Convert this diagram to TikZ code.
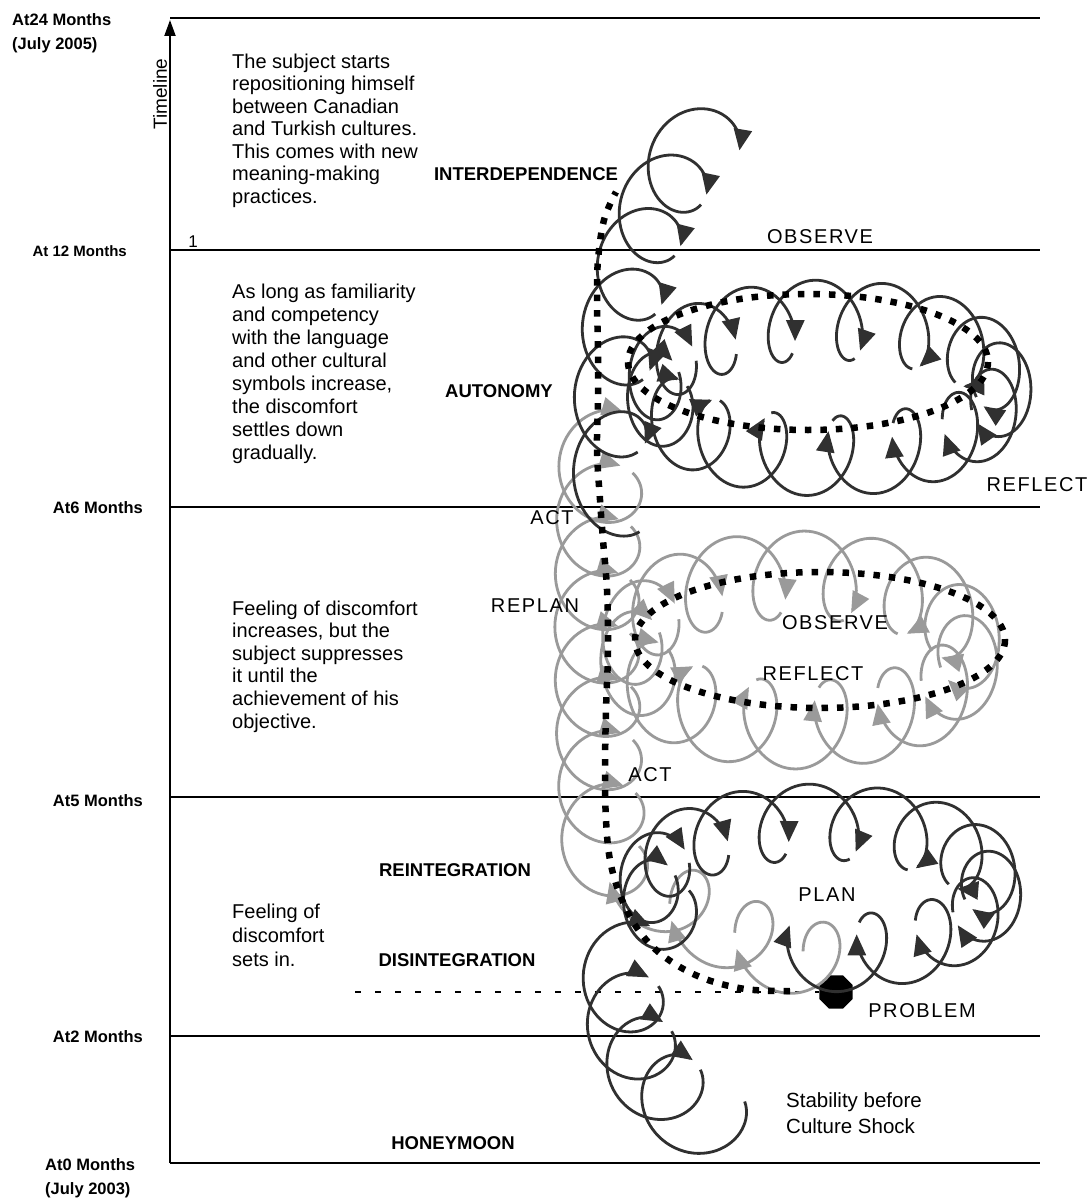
\documentclass[tikz,border=0pt]{standalone}
\usepackage{fontspec}
\setmainfont{Liberation Sans}
\newfontfamily\spacedfont[LetterSpace=8]{Liberation Sans}
\usetikzlibrary{arrows.meta,shapes.geometric}
\definecolor{coilblack}{HTML}{303030}
\definecolor{coilgrey}{HTML}{9A9A9A}
\def\gapf{0.06}
\def\crx{38}\def\cry{40}
% coil along a quadratic Bezier centre path
\newcommand{\coilbez}[9]{%
  \foreach \k in {1,...,#7}{%
    \pgfmathsetmacro\uS{\k-1}%
    \pgfmathsetmacro\uE{\k-\gapf}%
    \draw[#9] plot[domain=\uS:\uE,samples=60,variable=\cu]
      ({(1-\cu/#7)^2*#1+2*(\cu/#7)*(1-\cu/#7)*#3+(\cu/#7)^2*#5+\crx*cos(#8+360*\cu)},
       {(1-\cu/#7)^2*#2+2*(\cu/#7)*(1-\cu/#7)*#4+(\cu/#7)^2*#6+\cry*sin(#8+360*\cu)});
  }}
% coil along an elliptic centre path
\newcommand{\coilring}[9]{%
  \pgfmathsetmacro\rD{(#6-#5)/#7}%
  \pgfmathsetmacro\rK{360/\rD}%
  \pgfmathsetmacro\rP{#8+360*\gapf}%
  \foreach \k in {1,...,#7}{%
    \pgfmathsetmacro\sS{#5+(\k-1)*\rD}%
    \pgfmathsetmacro\sE{#5+(\k-\gapf)*\rD}%
    \draw[#9] plot[domain=\sS:\sE,samples=60,variable=\cs]
      ({#1+#3*cos(\cs)+\crx*cos(\cs+\rP+\rK*(\cs-#5))},
       {#2+#4*sin(\cs)+\cry*sin(\cs+\rP+\rK*(\cs-#5))});
  }}
\tikzset{
  blackcoil/.style={draw=coilblack,line width=2.8pt,-{Triangle[length=21pt,width=18pt]}},
  greycoil/.style={draw=coilgrey,line width=2.8pt,-{Triangle[length=21pt,width=18pt]}},
  sqdots/.style={draw=black,line width=6.5pt,dash pattern=on 6.5pt off 9pt},
  hline/.style={draw=black,line width=1.8pt},
  txt/.style={inner sep=0pt,align=left,anchor=north west},
  lbl/.style={inner sep=0pt,font=\fontsize{20}{22}\spacedfont},
  lblb/.style={inner sep=0pt,font=\fontsize{18.5}{21}\selectfont\bfseries},
  side/.style={inner sep=0pt,font=\fontsize{16.5}{24}\selectfont\bfseries}
}
\begin{document}
\begin{tikzpicture}[x=1pt,y=-1pt]
\useasboundingbox[fill=white] (0,0) rectangle (1089,1198);
% ---- time bands
\coordinate (ax0) at (170,1163);
\coordinate (axt) at (170,20);
\foreach \yy in {18,250,507,797,1036,1163}{
  \draw[hline] (170,\yy) -- (1040,\yy);
}
\draw[line width=2pt,-{Triangle[length=16pt,width=11pt]}] (ax0) -- (axt);
\node[rotate=90,inner sep=0pt,font=\fontsize{19}{20}\selectfont] (timeline) at (160,94) {Timeline};
\node[inner sep=0pt,font=\fontsize{17}{18}\selectfont] (one) at (193,242) {1};
% ---- side labels
\node[side,anchor=north west,align=left] (m24) at (12,13) {At24 Months\\(July 2005)};
\node[side,anchor=east,font=\fontsize{15}{18}\selectfont\bfseries] (m12) at (127,251) {At 12 Months};
\node[side,anchor=east] (m6) at (143,508) {At6 Months};
\node[side,anchor=east] (m5) at (143,801) {At5 Months};
\node[side,anchor=east] (m2) at (143,1037) {At2 Months};
\node[side,anchor=north west,align=left] (m0) at (45,1158) {At0 Months\\(July 2003)};
% ---- text blocks
\node[txt,font=\fontsize{20}{22.5}\selectfont] (t1) at (232,53.7) {The subject starts\\repositioning himself\\between Canadian\\and Turkish cultures.\\This comes with new\\meaning-making\\practices.};
\node[txt,font=\fontsize{20}{23.1}\selectfont] (t2) at (232,283.4) {As long as familiarity\\and competency\\with the language\\and other cultural\\symbols increase,\\the discomfort\\settles down\\gradually.};
\node[txt,font=\fontsize{20}{22.6}\selectfont] (t3) at (232,600.4) {Feeling of discomfort\\increases, but the\\subject suppresses\\it until the\\achievement of his\\objective.};
\node[txt,font=\fontsize{20}{24}\selectfont] (t4) at (232,903.4) {Feeling of\\discomfort\\sets in.};
\node[txt,font=\fontsize{20.5}{26}\selectfont] (t5) at (786,1092.4) {Stability before\\Culture Shock};
% ---- dashed level line and problem dot
\coordinate (dashstart) at (355,992);
\node[regular polygon,regular polygon sides=8,fill=black,minimum size=36pt,inner sep=0pt] (problem) at (836,992) {};
\draw[line width=1.3pt,dash pattern=on 6pt off 14pt] (dashstart) -- (problem.west);
% ---- grey coils (drawn first)
\def\crx{34}\def\cry{40}
\coilbez{835}{965}{730}{945}{640}{878}{3}{200}{greycoil}
\def\crx{42}\def\cry{42}
\coilbez{606}{872}{590}{660}{602}{445}{8}{322}{greycoil}
\def\crx{32}\def\cry{44}
\coilring{800}{650}{170}{75}{180}{540}{14}{135}{greycoil}
% ---- black coils
\def\crx{40}\def\cry{41}
\coilbez{710}{1122}{606}{1065}{626}{955}{4}{330}{blackcoil}
\def\crx{30}\def\cry{38}
\coilring{820}{888}{172}{66}{150}{455}{12}{135}{blackcoil}
\def\crx{28}\def\cry{40}
\coilring{828}{388}{175}{68}{180}{540}{15}{135}{blackcoil}
\def\crx{37}\def\cry{40}
\coilbez{612}{505}{596}{255}{707}{134}{6}{42}{blackcoil}
% ---- dotted centre paths
\draw[sqdots] plot[smooth,tension=0.6] coordinates {(790,991) (745,989) (700,977) (662,955) (637,928) (620,895) (610,860) (606,820) (605,770) (606,710) (608,650) (607,590) (603,540) (600,500) (597,450) (598,400) (598,350) (597,300) (598,260) (604,220) (616,192)};
\draw[sqdots] (808,362) ellipse [x radius=180,y radius=68];
\draw[sqdots] (820,640) ellipse [x radius=185,y radius=68];
% ---- labels
\node[lblb] (interd) at (526,174) {INTERDEPENDENCE};
\node[lbl] (obs1) at (820,237) {OBSERVE};
\node[lblb] (auton) at (499,391) {AUTONOMY};
\node[lbl] (refl1) at (1037,485) {REFLECT};
\node[lbl] (act1) at (552,518) {ACT};
\node[lbl] (replan) at (535,606) {REPLAN};
\node[lbl] (obs2) at (835,623) {OBSERVE};
\node[lbl] (refl2) at (813,674) {REFLECT};
\node[lbl] (act2) at (650,775) {ACT};
\node[lblb] (reint) at (455,870) {REINTEGRATION};
\node[lbl] (plan) at (827,895) {PLAN};
\node[lblb] (disint) at (457,960) {DISINTEGRATION};
\node[lbl] (problab) at (922,1011) {PROBLEM};
\node[lblb] (honey) at (453,1143) {HONEYMOON};
\end{tikzpicture}
\end{document}
